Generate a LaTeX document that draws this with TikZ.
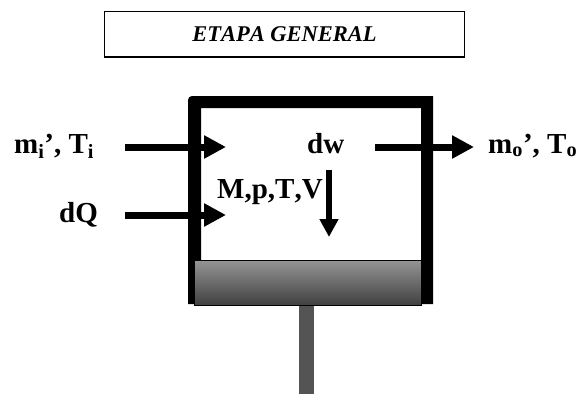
\documentclass[tikz,border=0pt]{standalone}
\usepackage{fontspec}
\setmainfont{Liberation Serif}
\usetikzlibrary{positioning, arrows.meta}

\begin{document}
\begin{tikzpicture}[
    x=1pt, y=-1pt,
    font=\fontsize{29}{31}\selectfont\bfseries,
    titlebox/.style={draw, line width=1.5pt, minimum width=360pt, minimum height=45.5pt, inner sep=0pt, font=\fontsize{22.5}{24}\selectfont\bfseries\itshape\addfontfeature{Kerning=Off}},
    label/.style={inner sep=0pt, anchor=base west},
    flow/.style={-{Triangle[length=22pt, width=22pt]}, line width=7pt},
    flowthin/.style={-{Triangle[length=18pt, width=18pt]}, line width=6pt}
]
\useasboundingbox (0,0) rectangle (579,394);

% title
\node[titlebox] (etapa) at (284.5,34.2) {ETAPA GENERAL};

% labels
\node[label] (min) at (14,153) {m\textsubscript{i}’, T\textsubscript{i}};
\node[label] (dq) at (59,222) {dQ};
\node[label] (dw) at (307,153) {dw};
\node[label, font=\fontsize{29}{31}\selectfont\bfseries\addfontfeature{Kerning=Off}] (state) at (217,198) {M,p,T,V};
\node[label] (mout) at (488,153) {m\textsubscript{o}’, T\textsubscript{o}};

% arrow ends
\coordinate (minend) at (226,147);
\coordinate (dqend) at (226,215);
\coordinate (dwend) at (474,147);
\coordinate (downstart) at (329,170);
\coordinate (downend) at (329,237);

% arrows
\draw[flow, shorten <=31pt] (min.east |- minend) -- (minend);
\draw[flow, shorten <=27pt] (dq.east |- dqend) -- (dqend);
\draw[flow, shorten <=31pt] (dw.east |- dwend) -- (dwend);
\draw[flowthin] (downstart) -- (downend);

% cylinder
\fill (188,304) [rounded corners=4pt] -- (188,96) [sharp corners] -- (433,96) -- (433,304) -- (421,304) -- (421,108) -- (201,108) -- (201,304) -- (194,304) -- cycle;

% piston
\draw[line width=1pt, top color=black!42, bottom color=black!75] (194,260.5) rectangle (421.5,305.5);
\fill[black!67] (299,306) rectangle (314,394);
\end{tikzpicture}
\end{document}
